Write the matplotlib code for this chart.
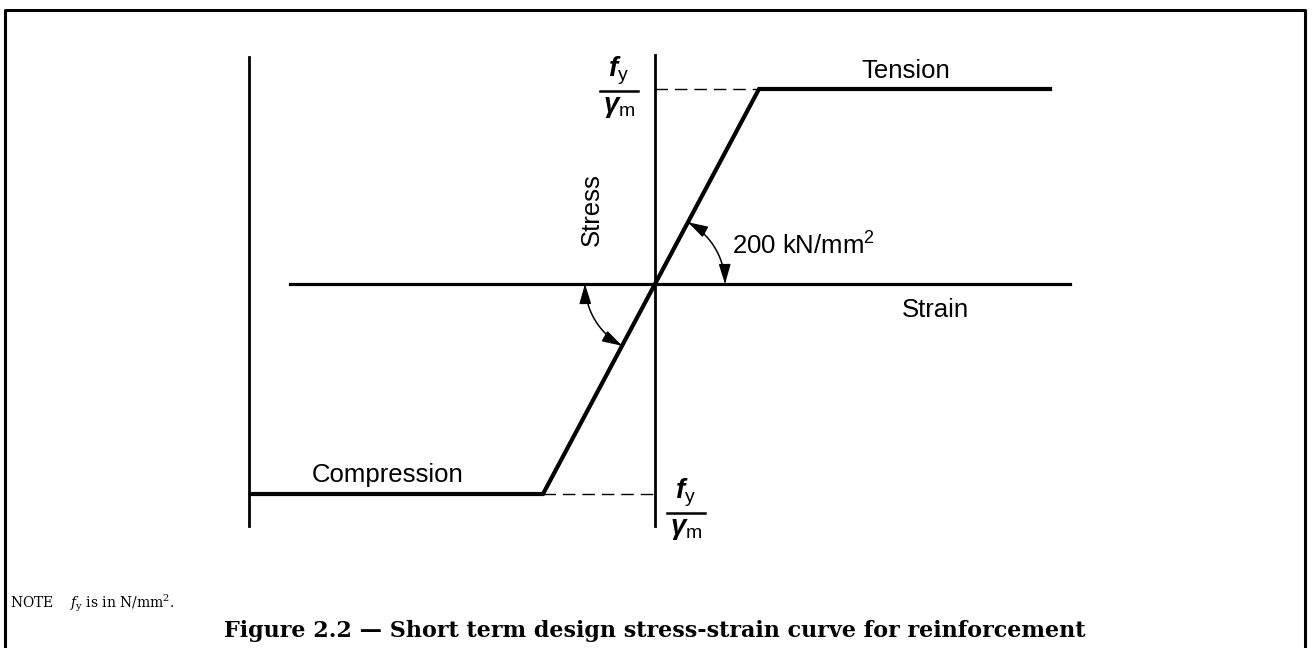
import numpy as np
import matplotlib
matplotlib.use("Agg")
import matplotlib.pyplot as plt
from matplotlib.patches import FancyArrowPatch
from matplotlib.path import Path

# design curve (strain, stress) in drawing units, origin at the axes crossing
strain = [-404, -112, 0, 104, 395]
stress = [-210, -210, 0, 195, 195]

# axis extents
stress_axis = [-242, 229]
strain_axis = [-365, 415]
left_axis_x = -406

arc_radius = 70
fy_label = r"$f_{\mathrm{y}}$"
gm_label = r"$\gamma_{\mathrm{m}}$"

plt.rcParams["font.family"] = ["Liberation Sans", "DejaVu Sans"]
plt.rcParams["mathtext.fontset"] = "custom"
plt.rcParams["mathtext.it"] = "Liberation Sans:italic:bold"
plt.rcParams["mathtext.rm"] = "Liberation Sans"

fig = plt.figure(figsize=(13.13, 6.48), dpi=100)
ax = fig.add_axes([0, 0, 1, 1])
ax.set_xlim(-655, 658)
ax.set_ylim(-364, 284)
ax.axis("off")

# page frame (open at the bottom)
ax.plot([5 / 1313, 5 / 1313, 1305 / 1313, 1305 / 1313], [0, 638 / 648, 638 / 648, 0],
        color="black", lw=2.2, transform=ax.transAxes, clip_on=False)

# axes
ax.plot([0, 0], stress_axis, color="black", lw=2)
ax.plot([left_axis_x, left_axis_x], [stress_axis[0], stress_axis[1] - 2], color="black", lw=2)
ax.plot(strain_axis, [0, 0], color="black", lw=2.3)

# curve
ax.plot(strain, stress, color="black", lw=3, solid_joinstyle="miter")

# dashed projections to stress axis
ax.plot([0, strain[3]], [stress[3], stress[3]], color="black", lw=1, dashes=(9, 5))
ax.plot([strain[1], 0], [stress[1], stress[1]], color="black", lw=1, dashes=(9, 5))

# modulus arcs
ang = np.arctan2(stress[3], strain[3])
def arc(a0, a1):
    t = np.linspace(a0, a1, 40)
    pts = np.column_stack([arc_radius * np.cos(t), arc_radius * np.sin(t)])
    codes = [Path.MOVETO] + [Path.LINETO] * (len(pts) - 1)
    return Path(pts, codes)

for a0, a1 in [(ang, 0.0), (np.pi, np.pi + ang)]:
    p = FancyArrowPatch(path=arc(a0, a1), arrowstyle="<|-|>,head_length=0.6,head_width=0.18",
                        mutation_scale=20, color="black", lw=1.1)
    ax.add_patch(p)

# labels
fs = 18.5
ax.text(251, 213, "Tension", fontsize=fs, ha="center", va="center")
ax.text(280, -26, "Strain", fontsize=fs, ha="center", va="center")
ax.text(-63, 74, "Stress", fontsize=fs, ha="center", va="center", rotation=90)
ax.text(77, 38, r"200 kN/mm$^{\mathregular{2}}$", fontsize=fs, ha="left", va="center")
ax.text(-267, -191, "Compression", fontsize=fs, ha="center", va="center")

def frac(xc, yc):
    ax.plot([xc - 19, xc + 19], [yc, yc], color="black", lw=1.8)
    ax.text(xc - 1, yc + 4, fy_label, fontsize=20, ha="center", va="bottom")
    ax.text(xc, yc - 3, gm_label, fontsize=20, ha="center", va="top")

frac(-36, 193)
frac(31, -229)

# note and caption
fig.text(10 / 1313, 1 - 603 / 648, r"NOTE    $f_{\mathrm{y}}$ is in N/mm$^{2}$.",
         fontsize=10, family="DejaVu Serif", ha="left", va="center",
         math_fontfamily="dejavuserif")
fig.text(655 / 1313, 1 - 631 / 648,
         "Figure 2.2 \u2014 Short term design stress-strain curve for reinforcement",
         fontsize=16, family="DejaVu Serif", weight="bold", ha="center", va="center")

fig.savefig("out.png", dpi=100)
